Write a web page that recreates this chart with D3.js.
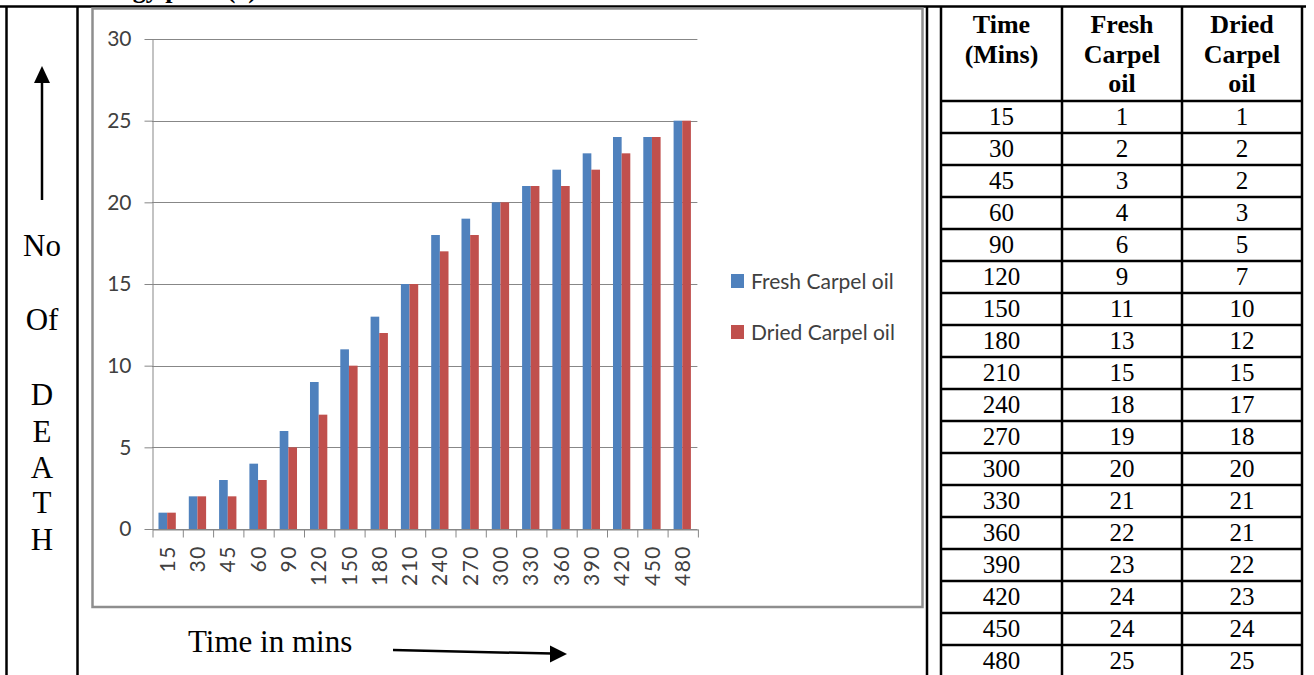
<!DOCTYPE html>
<html>
<head>
<meta charset="utf-8">
<script src="https://cdn.jsdelivr.net/npm/d3@7"></script>
<style>
  html, body { margin: 0; padding: 0; background: #fff; overflow: hidden; }
  svg { display: block; }
  .serif { font-family: "Liberation Serif", "Times New Roman", serif; }
  .sans { font-family: Lato, "Open Sans", sans-serif; }
</style>
</head>
<body>
<svg id="fig" width="1314" height="675"></svg>
<script>
// Exposure time (minutes) and cumulative number of deaths per treatment
const times = [15, 30, 45, 60, 90, 120, 150, 180, 210, 240, 270, 300, 330, 360, 390, 420, 450, 480];
const freshOil = [1, 2, 3, 4, 6, 9, 11, 13, 15, 18, 19, 20, 21, 22, 23, 24, 24, 25];
const driedOil = [1, 2, 2, 3, 5, 7, 10, 12, 15, 17, 18, 20, 21, 21, 22, 23, 24, 25];
const seriesNames = ["Fresh Carpel oil", "Dried Carpel oil"];
const seriesColors = ["#4F81BD", "#C0504D"];
const yTicks = [0, 5, 10, 15, 20, 25, 30];
const tableHeader = [["Time", "(Mins)"], ["Fresh", "Carpel", "oil"], ["Dried", "Carpel", "oil"]];
const sideLabel = ["No", "Of", "D", "E", "A", "T", "H"];
const xTitle = "Time in mins";
const caption = "Toxicology plate (a)";

const svg = d3.select("#fig");
svg.append("rect").attr("width", 1314).attr("height", 675).attr("fill", "#fff");

// ---- page frame (document table borders) ----
const rule = (x1, y1, x2, y2, w) => svg.append("line")
  .attr("x1", x1).attr("y1", y1).attr("x2", x2).attr("y2", y2)
  .attr("stroke", "#000").attr("stroke-width", w || 2.5);

svg.append("text").attr("class", "serif")
  .attr("x", 257).attr("y", -2).attr("text-anchor", "end")
  .attr("font-size", 26).attr("font-weight", "bold").text(caption);

rule(0, 6.5, 1306, 6.5);
rule(6.5, 6, 6.5, 675);
rule(77.5, 6, 77.5, 675);
rule(927, 6, 927, 675);

// ---- vertical axis caption in the left cell ----
rule(42, 200, 42, 80, 2.5);
svg.append("polygon").attr("points", "42,66 34,83 50,83").attr("fill", "#000");
const sideBaselines = [256, 330, 405, 442, 478, 513, 550];
svg.append("g").selectAll("text").data(sideLabel).join("text")
  .attr("class", "serif").attr("x", 42).attr("y", (d, i) => sideBaselines[i])
  .attr("text-anchor", "middle").attr("font-size", 31).attr("fill", "#000")
  .text(d => d);

// ---- chart frame ----
svg.append("rect").attr("x", 92.5).attr("y", 8.5).attr("width", 830).attr("height", 598.5)
  .attr("fill", "#fff").attr("stroke", "#8e8e8e").attr("stroke-width", 2.5);

// ---- chart ----
const plot = { left: 152, right: 697.4, top: 39, bottom: 529 };
const y = d3.scaleLinear().domain([0, 30]).range([plot.bottom, plot.top]);
const x0 = d3.scaleBand().domain(times).range([plot.left, plot.right]).padding(0);
const x1 = d3.scaleBand().domain(seriesNames).range([0, x0.bandwidth()])
  .paddingInner(0).paddingOuter(0.75);
const gridColor = "#878787";

// horizontal gridlines
svg.append("g").selectAll("line").data(yTicks).join("line")
  .attr("x1", plot.left).attr("x2", plot.right)
  .attr("y1", d => Math.round(y(d)) + 0.5).attr("y2", d => Math.round(y(d)) + 0.5)
  .attr("stroke", gridColor).attr("stroke-width", 1);

// bars
const rows = times.map((t, i) => ({ t, vals: [freshOil[i], driedOil[i]] }));
svg.append("g").selectAll("g").data(rows).join("g")
  .attr("transform", d => `translate(${x0(d.t)},0)`)
  .selectAll("rect").data(d => d.vals.map((v, k) => ({ v, k })))
  .join("rect")
  .attr("x", d => x1(seriesNames[d.k]))
  .attr("width", x1.bandwidth())
  .attr("y", d => y(d.v))
  .attr("height", d => y(0) - y(d.v))
  .attr("fill", d => seriesColors[d.k]);

// y axis
const yAxis = svg.append("g").attr("transform", `translate(${plot.left + 0.5},0)`)
  .call(d3.axisLeft(y).tickValues(yTicks).tickSize(8).tickSizeOuter(0).tickPadding(13));
yAxis.selectAll("path, line").attr("stroke", gridColor);
yAxis.selectAll("text").attr("class", "sans").attr("font-size", 21).attr("fill", "#404040");

// x axis: tick marks at category boundaries
const xb = d3.scaleLinear().domain([0, times.length]).range([plot.left, plot.right]);
const xTicks = svg.append("g").attr("transform", `translate(0.5,${plot.bottom + 0.5})`)
  .call(d3.axisBottom(xb).tickValues(d3.range(times.length + 1)).tickFormat("").tickSize(8).tickSizeOuter(0));
xTicks.selectAll("path, line").attr("stroke", gridColor);

// x axis: rotated category labels
const xLab = svg.append("g").attr("transform", `translate(0,${plot.bottom})`)
  .call(d3.axisBottom(x0).tickSize(0).tickSizeOuter(0));
xLab.select(".domain").remove();
xLab.selectAll("text").attr("class", "sans").attr("font-size", 21).attr("fill", "#404040")
  .attr("letter-spacing", "1.5px")
  .attr("transform", "rotate(-90)").attr("text-anchor", "end")
  .attr("x", -16).attr("y", 0).attr("dy", "0.36em");

// legend
const legend = svg.append("g").selectAll("g").data(seriesNames).join("g")
  .attr("transform", (d, i) => `translate(731,${274 + i * 51})`);
legend.append("rect").attr("width", 13).attr("height", 14)
  .attr("fill", (d, i) => seriesColors[i]);
legend.append("text").attr("class", "sans").attr("x", 20).attr("y", 15)
  .attr("font-size", 21).attr("fill", "#404040").text(d => d);

// x axis caption with arrow
svg.append("text").attr("class", "serif").attr("x", 188).attr("y", 652)
  .attr("font-size", 31).attr("fill", "#000").text(xTitle);
rule(393, 650, 552, 653.6, 2.5);
svg.append("polygon").attr("points", "567,654 550,645.6 550,662.4").attr("fill", "#000");

// ---- data table ----
const colEdges = [941, 1062, 1182, 1302];
const headerBottom = 101, rowH = 32;
const colMid = i => (colEdges[i] + colEdges[i + 1]) / 2;
const headBase = [33, 63, 92];
tableHeader.forEach((lines, c) => {
  svg.append("g").selectAll("text").data(lines).join("text")
    .attr("class", "serif").attr("x", colMid(c)).attr("y", (d, i) => headBase[i])
    .attr("text-anchor", "middle").attr("font-size", 26).attr("font-weight", "bold")
    .text(d => d);
});
const tableRows = times.map((t, i) => [t, freshOil[i], driedOil[i]]);
svg.append("g").selectAll("g").data(tableRows).join("g")
  .attr("transform", (d, i) => `translate(0,${headerBottom + i * rowH})`)
  .selectAll("text").data(d => d).join("text")
  .attr("class", "serif").attr("x", (d, c) => colMid(c)).attr("y", 24)
  .attr("text-anchor", "middle").attr("font-size", 25).text(d => d);

colEdges.forEach(x => rule(x, 6, x, 675));
d3.range(times.length + 1).forEach(i => rule(941, headerBottom + i * rowH, 1302, headerBottom + i * rowH));
</script>
</body>
</html>
